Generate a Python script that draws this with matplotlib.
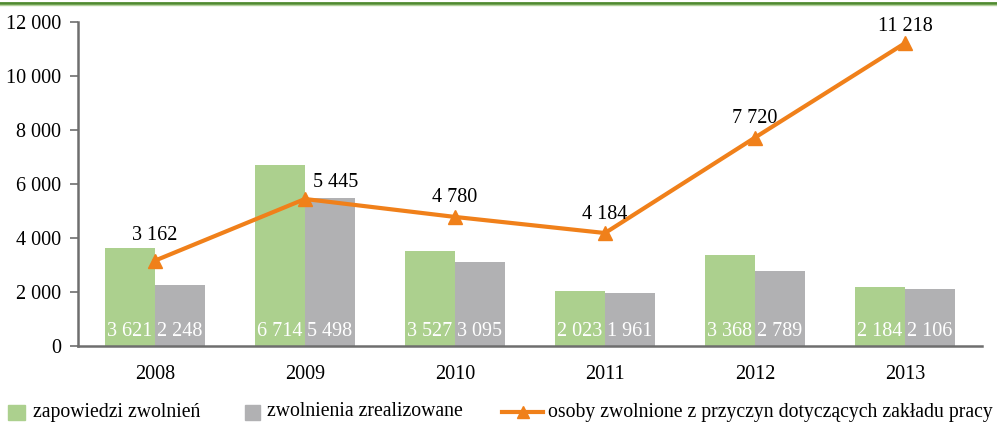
import matplotlib
matplotlib.use("Agg")
import matplotlib.pyplot as plt
from matplotlib.lines import Line2D
from matplotlib.patches import Rectangle
import numpy as np

years = ["2008", "2009", "2010", "2011", "2012", "2013"]
zapowiedzi = [3621, 6714, 3527, 2023, 3368, 2184]
zrealizowane = [2248, 5498, 3095, 1961, 2789, 2106]
osoby = [3162, 5445, 4780, 4184, 7720, 11218]
yticks = [0, 2000, 4000, 6000, 8000, 10000, 12000]
legend_labels = ["zapowiedzi zwolnień", "zwolnienia zrealizowane",
                 "osoby zwolnione z przyczyn dotyczących zakładu pracy"]

GREEN = "#acd08e"
GRAY = "#b1b1b3"
ORANGE = "#f0801a"
AXC = "#6e6e6e"
FONT = "Liberation Serif"

def fmt(v):
    return f"{v:,}".replace(",", " ")

fig = plt.figure(figsize=(9.97, 4.22), dpi=100)
ax = fig.add_axes([78/997, (422-346)/422, (982-78)/997, (346-22)/422])

x = np.arange(len(years))
w = 1/3
ax.bar(x - w/2, zapowiedzi, width=w, color=GREEN, zorder=2)
ax.bar(x + w/2, zrealizowane, width=w, color=GRAY, zorder=2)
ax.plot(x, osoby, color=ORANGE, lw=3, marker="^", ms=10, zorder=3)

for xi, v in zip(x, zapowiedzi):
    ax.annotate(fmt(v), (xi - w/2, 0), xytext=(0, 3.5), textcoords="offset points",
                ha="center", va="bottom", color="white", fontsize=14.5, family=FONT, zorder=4)
for xi, v in zip(x, zrealizowane):
    ax.annotate(fmt(v), (xi + w/2, 0), xytext=(0, 3.5), textcoords="offset points",
                ha="center", va="bottom", color="white", fontsize=14.5, family=FONT, zorder=4)

offsets = [(0, 18), (22, 12), (0, 14), (0, 13), (0, 14), (0, 12)]
for xi, v, off in zip(x, osoby, offsets):
    ax.annotate(fmt(v), (xi, v), xytext=off, textcoords="offset points",
                ha="center", va="center", color="black", fontsize=14.5, family=FONT, zorder=4)

ax.set_xlim(-0.513, 5.513)
ax.set_ylim(0, 12000)
ax.set_yticks(yticks)
ax.set_yticklabels([fmt(t) for t in yticks], fontsize=14.5, family=FONT)
ax.set_xticks(x)
ax.set_xticklabels(years, fontsize=14.5, family=FONT)
ax.tick_params(axis="x", length=0, pad=14)
ax.tick_params(axis="y", length=6, width=1.2, color=AXC, pad=6)
for s in ["top", "right"]:
    ax.spines[s].set_visible(False)
for s in ["left", "bottom"]:
    ax.spines[s].set_color(AXC)
    ax.spines[s].set_linewidth(1.8)

# top decorative line
fig.add_artist(Line2D([0, 1], [1 - 3/422, 1 - 3/422], transform=fig.transFigure,
                      color="#4f8a2f", lw=2))
fig.add_artist(Line2D([0, 1], [1 - 5/422, 1 - 5/422], transform=fig.transFigure,
                      color="#b5d39c", lw=1))

# legend
ly = 1 - 412/422
def fx(px):
    return px/997
def fy(py):
    return 1 - py/422
fig.add_artist(Rectangle((fx(8), fy(420)), 17/997, 15/422, transform=fig.transFigure,
                         color=GREEN))
fig.text(fx(33), ly, legend_labels[0], fontsize=14.2, family=FONT, va="center", ha="left")
fig.add_artist(Rectangle((fx(245), fy(420)), 15/997, 15/422, transform=fig.transFigure,
                         color=GRAY))
fig.text(fx(267), ly, legend_labels[1], fontsize=14.2, family=FONT, va="center", ha="left")
fig.add_artist(Line2D([fx(502), fx(543)], [ly, ly], transform=fig.transFigure,
                      color=ORANGE, lw=3))
fig.add_artist(Line2D([fx(523)], [ly], transform=fig.transFigure, color=ORANGE,
                      marker="^", ms=9, lw=0))
fig.text(fx(548), ly, legend_labels[2], fontsize=14.2, family=FONT, va="center", ha="left")

fig.savefig("out.png", dpi=100)
